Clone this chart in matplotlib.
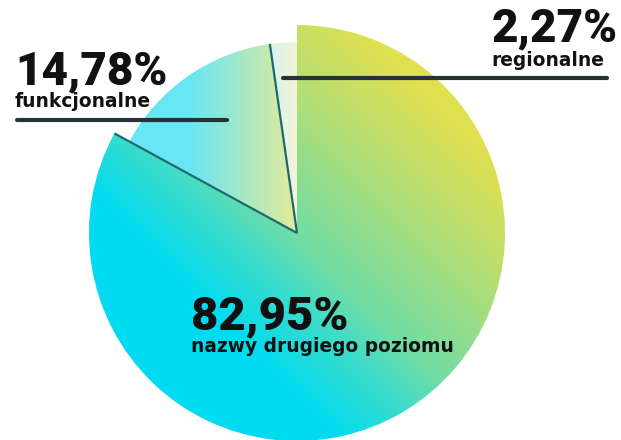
import numpy as np
import matplotlib.pyplot as plt
from matplotlib.colors import to_rgb

# data
labels = ['nazwy drugiego poziomu', 'funkcjonalne', 'regionalne']
shares = [82.95, 14.78, 2.27]
pct_labels = ['82,95%', '14,78%', '2,27%']

W, H = 621, 440
cx, cy = 297, 207

fig = plt.figure(figsize=(6.21, 4.40), dpi=100)
ax = fig.add_axes([0, 0, 1, 1])

wedges, _ = ax.pie(shares, startangle=90, counterclock=False,
                   center=(cx, cy), radius=208,
                   wedgeprops=dict(facecolor='none', edgecolor='none'))
# the two small slices are drawn a bit smaller
wedges[1].set_radius(191)
wedges[2].set_radius(191)

xx, yy = np.meshgrid(np.arange(W) + 0.5, np.arange(H) + 0.5)


def ramp(s, pos, stops):
    rgb = np.array([to_rgb(c) for c in stops])
    return np.dstack([np.interp(s, pos, rgb[:, i]) for i in range(3)])


grads = [
    ramp(xx + yy, [340, 440, 500, 590, 640, 770],
         ['#00dbf1', '#40dcc8', '#72dca4', '#98dc88', '#b0de78', '#dee050']),
    ramp(xx, [190, 297], ['#68e6f4', '#e6ea98']),
    ramp(xx, [255, 297], ['#c6f4fb', '#f3f5d6']),
]
for w, g in zip(wedges, grads):
    im = ax.imshow(g, extent=(0, W, 0, H), origin='lower', zorder=1,
                   interpolation='bilinear')
    im.set_clip_path(w)

# dark edges between slices
for w_edge, r in [(wedges[0], 208), (wedges[1], 191)]:
    a = np.deg2rad(w_edge.theta1)
    ax.plot([cx, cx + r * np.cos(a)], [cy, cy + r * np.sin(a)],
            color='#1d6a70', lw=1.6, solid_capstyle='butt', zorder=3)

big = dict(family='Roboto', fontweight='black', fontstretch='normal',
           color='#111111', va='baseline', ha='left', zorder=5)
small = dict(family='DejaVu Sans', fontweight='bold', color='#111111',
             va='baseline', ha='left', zorder=5)

# labels
ax.text(191, 111, pct_labels[0], fontsize=34, **big)
ax.text(191, 88, labels[0], fontsize=13.4, **small)

ax.text(15, 356, pct_labels[1], fontsize=33, **big)
ax.text(15, 333, labels[1], fontsize=13.4, **small)
ax.plot([17, 227], [320, 320], color='#263238', lw=3, solid_capstyle='round', zorder=4)

ax.text(492, 399, pct_labels[2], fontsize=33, **big)
ax.text(491, 374, labels[2], fontsize=13.4, **small)
ax.plot([283, 607], [362, 362], color='#263238', lw=3, solid_capstyle='round', zorder=4)

ax.set_xlim(0, W)
ax.set_ylim(0, H)
ax.axis('off')

plt.savefig('out.png', dpi=100)
plt.close()
